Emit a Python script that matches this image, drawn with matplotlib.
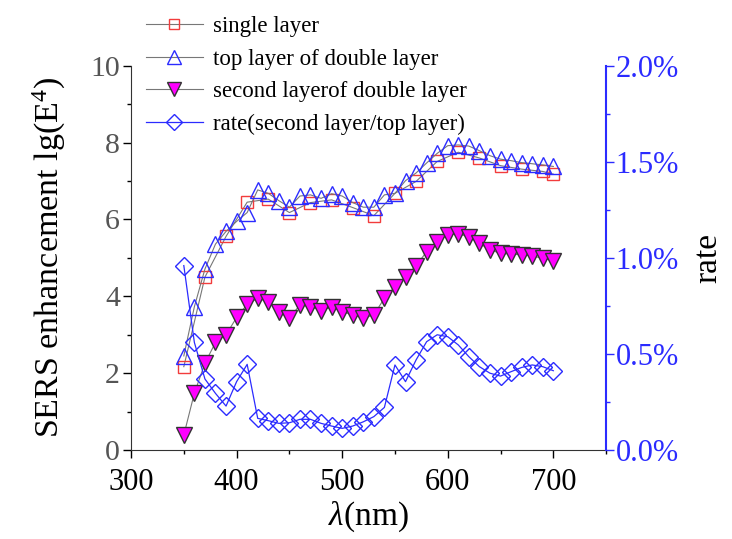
import numpy as np
import matplotlib
matplotlib.use("Agg")
import matplotlib.pyplot as plt
from matplotlib.ticker import MultipleLocator, PercentFormatter

plt.rcParams["font.family"] = ["Liberation Serif", "DejaVu Serif"]
plt.rcParams["mathtext.fontset"] = "custom"
plt.rcParams["mathtext.rm"] = "Liberation Serif"
plt.rcParams["mathtext.it"] = "Liberation Serif:italic"

# --- data ---
single_wl = [350, 370, 390, 410, 430, 450, 470, 490, 510, 530,
             550, 570, 590, 610, 630, 650, 670, 690, 700]
single_val = [2.17, 4.50, 5.56, 6.45, 6.53, 6.18, 6.44, 6.51, 6.31, 6.10,
              6.68, 6.99, 7.51, 7.75, 7.60, 7.40, 7.31, 7.25, 7.18]

double_wl = [350, 360, 370, 380, 390, 400, 410, 420, 430, 440, 450, 460,
             470, 480, 490, 500, 510, 520, 530, 540, 550, 560, 570, 580,
             590, 600, 610, 620, 630, 640, 650, 660, 670, 680, 690, 700]
top_val = [2.45, 3.73, 4.71, 5.36, 5.69, 5.95, 6.18, 6.77, 6.68, 6.49, 6.32, 6.61,
           6.64, 6.55, 6.67, 6.61, 6.44, 6.32, 6.32, 6.64, 6.68, 7.01, 7.21, 7.47,
           7.72, 7.92, 7.94, 7.91, 7.79, 7.66, 7.57, 7.53, 7.48, 7.45, 7.42, 7.38]
second_val = [0.39, 1.48, 2.26, 2.80, 3.00, 3.45, 3.79, 3.95, 3.86, 3.60, 3.43, 3.78,
              3.73, 3.63, 3.72, 3.60, 3.52, 3.43, 3.52, 3.95, 4.25, 4.51, 4.80, 5.16,
              5.42, 5.60, 5.63, 5.55, 5.38, 5.21, 5.12, 5.10, 5.08, 5.05, 4.99, 4.93]
rate_pct = [0.96, 0.56, 0.37, 0.295, 0.229, 0.356, 0.446, 0.165, 0.153, 0.139, 0.142, 0.16,
            0.16, 0.139, 0.125, 0.113, 0.125, 0.147, 0.174, 0.222, 0.443, 0.356, 0.469, 0.564,
            0.60, 0.59, 0.547, 0.486, 0.434, 0.40, 0.385, 0.408, 0.43, 0.443, 0.434, 0.413]

RED = "#f23c3c"
BLUE = "#2b2bff"
LINE_GRAY = "#777777"

fig = plt.figure(figsize=(7.32, 5.39), dpi=100)
ax = fig.add_axes([0.179, 0.165, 0.649, 0.713])
ax2 = ax.twinx()

h1, = ax.plot(single_wl, single_val, color=LINE_GRAY, lw=0.8, marker="s", ms=9,
              mfc="none", mec=RED, mew=1.0, label="single layer")
h2, = ax.plot(double_wl, top_val, color=LINE_GRAY, lw=0.8, marker="^", ms=11.5,
              mfc="none", mec=BLUE, mew=1.0, label="top layer of double layer")
h3, = ax.plot(double_wl, second_val, color=LINE_GRAY, lw=0.8, marker="v", ms=11.5,
              mfc="#ff00ff", mec="#333333", mew=1.0, label="second layerof double layer")
h4, = ax2.plot(double_wl, rate_pct, color=BLUE, lw=0.9, marker="D", ms=9,
               mfc="none", mec=BLUE, mew=1.0, label="rate(second layer/top layer)")

# left axis
ax.set_xlim(300, 750)
ax.set_ylim(0, 10)
ax.xaxis.set_major_locator(MultipleLocator(100))
ax.xaxis.set_minor_locator(MultipleLocator(50))
ax.yaxis.set_major_locator(MultipleLocator(2))
ax.yaxis.set_minor_locator(MultipleLocator(1))
ax.tick_params(axis="x", which="major", length=6, width=1, labelsize=22, pad=7)
ax.tick_params(axis="x", which="minor", length=3, width=1)
ax.tick_params(axis="y", which="major", length=6, width=1, labelsize=21.5,
               labelcolor="#555555", pad=2)
ax.tick_params(axis="y", which="minor", length=3, width=1)
ax.set_xlabel(r"$\lambda$(nm)", fontsize=24, labelpad=2)
ax.set_ylabel(r"SERS enhancement lg(E$^4$)", fontsize=24.5, labelpad=16)
ax.spines["top"].set_visible(False)
ax.spines["right"].set_visible(False)
for s in ("left", "bottom"):
    ax.spines[s].set_color("#333333")

# right axis
ax2.set_ylim(0, 2.0)
ax2.yaxis.set_major_locator(MultipleLocator(0.5))
ax2.yaxis.set_minor_locator(MultipleLocator(0.25))
ax2.yaxis.set_major_formatter(PercentFormatter(xmax=100, decimals=1))
ax2.tick_params(axis="y", which="major", length=6, width=1, colors=BLUE,
                labelsize=22, pad=1)
ax2.tick_params(axis="y", which="minor", length=3, width=1, colors=BLUE)
ax2.spines["right"].set_color(BLUE)
ax2.spines["right"].set_linewidth(1.5)
for s in ("top", "left", "bottom"):
    ax2.spines[s].set_visible(False)
ax2.set_ylabel("rate", fontsize=24, labelpad=10)

fig.legend(handles=[h1, h2, h3, h4], loc="upper left",
           bbox_to_anchor=(0.18, 0.995), frameon=False, fontsize=16.5,
           handlelength=2.5, handletextpad=0.45, labelspacing=0.5,
           borderaxespad=0.2, markerscale=0.85)

fig.savefig("out.png", dpi=100)
